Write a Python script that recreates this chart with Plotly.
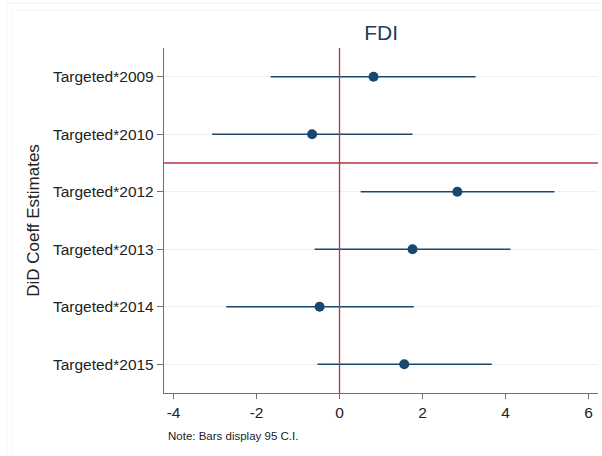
import plotly.graph_objects as go

labels = ["Targeted*2009", "Targeted*2010", "Targeted*2012", "Targeted*2013", "Targeted*2014", "Targeted*2015"]
positions = [1, 2, 3, 4, 5, 6]
coef = [0.82, -0.66, 2.84, 1.76, -0.48, 1.56]
ci_low = [-1.66, -3.07, 0.51, -0.60, -2.73, -0.53]
ci_high = [3.28, 1.76, 5.18, 4.12, 1.79, 3.67]
x_ticks = [-4, -2, 0, 2, 4, 6]
x_ticktext = ["-4", "-2", "0", "2", "4", "6"]
break_pos = 2.5

navy = "#1a476f"
red = "#b8304a"
font = "Liberation Sans, Arial, Helvetica, sans-serif"

fig = go.Figure()
for p, lo, hi in zip(positions, ci_low, ci_high):
    fig.add_trace(go.Scatter(x=[lo, hi], y=[p, p], mode="lines",
                             line=dict(color=navy, width=1.6), showlegend=False, hoverinfo="skip"))
fig.add_trace(go.Scatter(x=coef, y=positions, mode="markers",
                         marker=dict(color=navy, size=10), showlegend=False))

fig.add_shape(type="line", xref="x", yref="paper", x0=0, x1=0, y0=0, y1=1,
              line=dict(color=red, width=1.3), layer="above")
fig.add_shape(type="line", xref="paper", yref="y", x0=0, x1=1, y0=break_pos, y1=break_pos,
              line=dict(color=red, width=1.3), layer="above")

# faint outer frames
fig.add_shape(type="rect", xref="paper", yref="paper", x0=-0.362, x1=1.05, y0=-0.3, y1=1.13,
              line=dict(color="#eef2f4", width=1), layer="below")
fig.add_shape(type="rect", xref="paper", yref="paper", x0=-0.350, x1=1.05, y0=-0.3, y1=1.11,
              line=dict(color="#f3f6f7", width=1), layer="below")

fig.add_annotation(text="Note: Bars display 95 C.I.", xref="paper", yref="paper",
                   x=0.005, y=-0.1, xanchor="left", yanchor="top", showarrow=False,
                   font=dict(family=font, size=11.5, color="#222222"))

fig.update_layout(
    width=602, height=456,
    margin=dict(l=164, r=4, t=48, b=63),
    paper_bgcolor="white", plot_bgcolor="white",
    title=dict(text="FDI", x=0.633, xanchor="center",
               y=1 - 33 / 456, yanchor="middle",
               font=dict(family=font, size=21, color="#1f3a60")),
    xaxis=dict(range=[-4.23, 6.23], tickvals=x_ticks, ticktext=x_ticktext,
               showgrid=False, zeroline=False,
               showline=True, linecolor="#6e6e6e", linewidth=1.3,
               ticks="outside", ticklen=5, tickcolor="#6e6e6e",
               tickfont=dict(family=font, size=15.5, color="#222222")),
    yaxis=dict(range=[6.5, 0.5], tickvals=positions, ticktext=labels,
               showgrid=True, gridcolor="#eaf1f4", gridwidth=1, zeroline=False,
               showline=True, linecolor="#6e6e6e", linewidth=1.3,
               ticks="outside", ticklen=6, tickcolor="#6e6e6e",
               tickfont=dict(family=font, size=15.5, color="#222222"),
               title=dict(text="DiD Coeff Estimates", standoff=8,
                          font=dict(family=font, size=17, color="#222222"))),
)

fig.write_html("out.html")
